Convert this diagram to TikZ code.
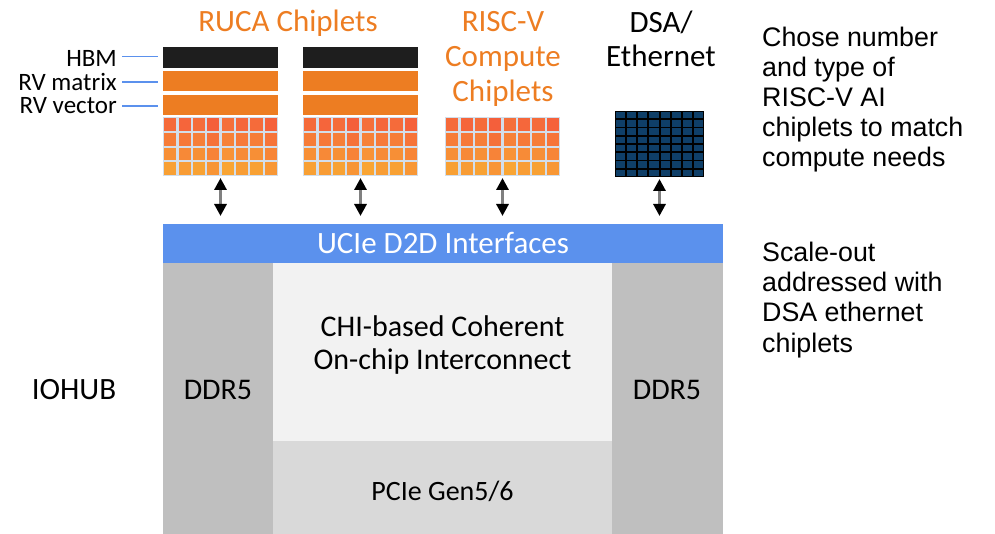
\documentclass[tikz,border=0pt]{standalone}
\usepackage{fontspec}
\setmainfont{Carlito}
\newfontfamily\helv{Liberation Sans}
\usetikzlibrary{arrows.meta}
\definecolor{orng}{HTML}{ED7D22}
\definecolor{hbmc}{HTML}{1E1E1E}
\definecolor{uciec}{HTML}{5B91ED}
\definecolor{ddrc}{HTML}{BFBFBF}
\definecolor{chic}{HTML}{F2F2F2}
\definecolor{pciec}{HTML}{D9D9D9}
\definecolor{lblc}{HTML}{5B91ED}
\definecolor{cellR}{HTML}{F45A3C}
\definecolor{cellY}{HTML}{F9AC33}
\definecolor{gridbg}{HTML}{D3DEEA}
\definecolor{dsac}{HTML}{0F3F68}
\definecolor{shaftc}{HTML}{808080}
\newcommand\chipgrid[2]{%
  \foreach \i/\nz in {0/0,1/6,2/-2,3/14,4/-6,5/4,6/-1,7/11}{%
    \foreach \j in {0,1,2,3}{%
      \pgfmathtruncatemacro\m{min(100,max(0,80-22*\j+\nz))}%
      \fill[cellR!\m!cellY] ({#1+1.2+\i*14.35},{#2+1.2+\j*14.75}) rectangle ++(12.2,12.6);
    }}}
\begin{document}
\begin{tikzpicture}[x=1pt,y=-1pt,
  blk/.style={draw=none,inner sep=0pt,outer sep=0pt,anchor=north west},
  bar/.style={blk,minimum width=115pt,minimum height=20.5pt},
  gridbox/.style={blk,fill=gridbg,minimum width=115pt,minimum height=59pt},
  title/.style={font=\fontsize{31}{34}\selectfont,text=orng,anchor=base,inner sep=0pt},
  side/.style={font=\helv\fontsize{26.8}{30}\selectfont,anchor=base west,inner sep=0pt},
  lbl/.style={font=\fontsize{25}{26}\selectfont,anchor=base east,inner sep=0pt},
  big/.style={font=\fontsize{31}{34}\selectfont,inner sep=0pt},
  conn/.style={draw=lblc,line width=1.3pt},
  dbl/.style={draw=shaftc,line width=3pt,
    {Triangle[length=12pt,width=12pt,color=black]}-{Triangle[length=12pt,width=12pt,color=black]}}]
\useasboundingbox (0,0) rectangle (995,534);
% titles
\node[title] (ruca) at (288,32) {RUCA Chiplets};
\node[title] (risc1) at (503,32) {RISC-V};
\node[title] (risc2) at (503,67) {Compute};
\node[title] (risc3) at (503,101.5) {Chiplets};
\node[title,text=black] (dsa1) at (661,33) {DSA/};
\node[title,text=black] (dsa2) at (661,67) {Ethernet};
% side text
\node[side] (s1) at (762,47) {Chose number};
\node[side] (s2) at (762,77) {and type of};
\node[side] (s3) at (762,107) {RISC-V AI};
\node[side] (s4) at (762,137) {chiplets to match};
\node[side] (s5) at (762,167) {compute needs};
\node[side] (t1) at (762,262) {Scale-out};
\node[side] (t2) at (762,292) {addressed with};
\node[side] (t3) at (762,322) {DSA ethernet};
\node[side] (t4) at (762,352) {chiplets};
% chiplet 1
\node[bar,fill=hbmc] (h1) at (163,47.5) {};
\node[bar,fill=orng] (m1) at (163,71) {};
\node[bar,fill=orng] (v1) at (163,95) {};
\node[gridbox] (g1) at (163,117) {};
\chipgrid{163}{117}
% chiplet 2
\node[bar,fill=hbmc] (h2) at (303,47.5) {};
\node[bar,fill=orng] (m2) at (303,71) {};
\node[bar,fill=orng] (v2) at (303,95) {};
\node[gridbox] (g2) at (303,117) {};
\chipgrid{303}{117}
% chiplet 3
\node[gridbox] (g3) at (445,117) {};
\chipgrid{445}{117}
% DSA grid
\node[blk,fill=black,minimum width=89pt,minimum height=66pt] (g4) at (615,111) {};
\foreach \i in {0,...,7}{\foreach \j in {0,...,7}{%
  \fill[dsac] ({615+1+\i*11.125},{111+1+\j*8.25}) rectangle ++(9.2,6.4);}}
% labels
\node[lbl] (lh) at (117,67) {HBM};
\node[lbl] (lm) at (117,91) {RV matrix};
\node[lbl] (lv) at (117,114) {RV vector};
\coordinate (a1) at (122,56.5); \coordinate (b1) at (158,56.5);
\coordinate (a2) at (122,82); \coordinate (b2) at (158,82);
\coordinate (a3) at (122,106); \coordinate (b3) at (158,106);
\draw[conn] (a1) -- (b1);
\draw[conn] (a2) -- (b2);
\draw[conn] (a3) -- (b3);
% IO hub
\node[blk,fill=uciec,minimum width=560pt,minimum height=39pt] (ucie) at (163,224) {};
\node[big,text=white] (uciet) at (443,243) {UCIe D2D Interfaces};
\node[blk,fill=ddrc,minimum width=110pt,minimum height=271pt] (ddrl) at (163,263) {};
\node[blk,fill=ddrc,minimum width=111pt,minimum height=271pt] (ddrr) at (612,263) {};
\node[blk,fill=chic,minimum width=339pt,minimum height=178pt] (chi) at (273,263) {};
\node[blk,fill=pciec,minimum width=339pt,minimum height=93pt] (pcie) at (273,441) {};
\node[big,font=\fontsize{30}{33}\selectfont,align=center] (chit) at (442.5,345) {CHI-based Coherent\\On-chip Interconnect};
\node[big,font=\fontsize{28}{30}\selectfont] (pciet) at (442.5,491) {PCIe Gen5/6};
\node[big,font=\fontsize{30}{33}\selectfont] (ddrlt) at (218,390) {DDR5};
\node[big,font=\fontsize{30}{33}\selectfont] (ddrrt) at (667,390) {DDR5};
\node[big] (iohub) at (74,390) {IOHUB};
% arrows
\draw[dbl,shorten <=2pt,shorten >=8pt] (g1.south) -- (g1.south |- ucie.north);
\draw[dbl,shorten <=2pt,shorten >=8pt] (g2.south) -- (g2.south |- ucie.north);
\draw[dbl,shorten <=2pt,shorten >=8pt] (g3.south) -- (g3.south |- ucie.north);
\draw[dbl,shorten <=2pt,shorten >=8pt] (g4.south) -- (g4.south |- ucie.north);
\end{tikzpicture}
\end{document}
